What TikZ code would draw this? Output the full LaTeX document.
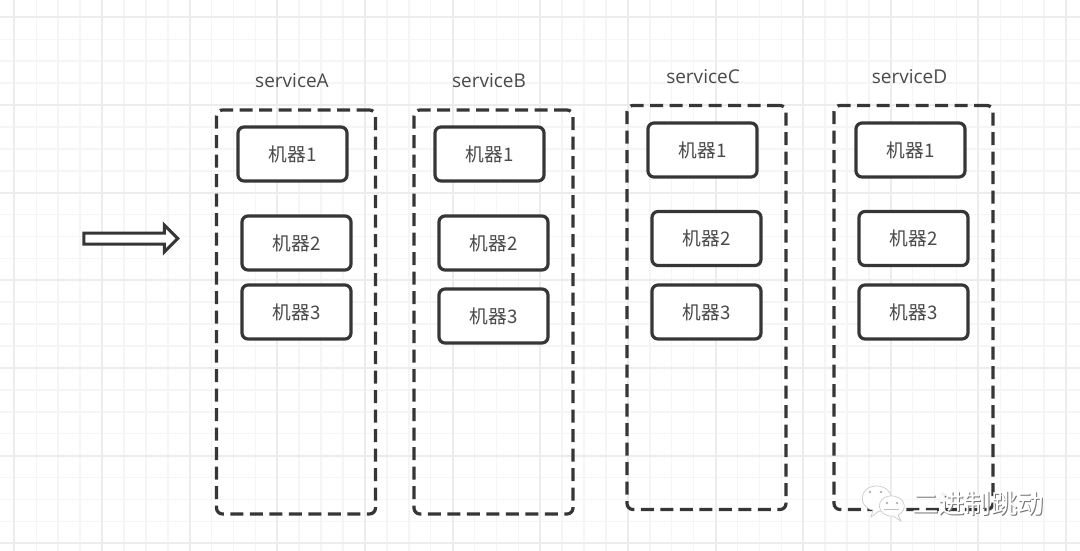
\documentclass[tikz,border=0pt]{standalone}
\usepackage{fontspec}
\setmainfont{Open Sans}
\newfontfamily\cjk{Noto Sans CJK SC}
\usetikzlibrary{shapes.arrows}
\definecolor{inkdark}{HTML}{363636}
\definecolor{inktext}{HTML}{4A4A4A}
\definecolor{gridmajor}{HTML}{ECECEC}
\definecolor{gridminor}{HTML}{F5F5F5}
\tikzset{
  service/.style={draw=inkdark,line width=3.2pt,dash pattern=on 13pt off 6.5pt,rounded corners=6pt,
    minimum width=159pt,minimum height=404pt,inner sep=0pt,outer sep=0pt},
  machine/.style={draw=inkdark,line width=3.2pt,rounded corners=6pt,fill=white,text=inktext,
    minimum width=109pt,minimum height=54pt,inner sep=0pt,outer sep=0pt,font=\cjk\fontsize{18.7}{20}\selectfont},
  title/.style={text=inktext,inner sep=0pt,font=\fontsize{19}{22}\selectfont},
  mark text/.style={inner sep=0pt,font=\cjk\fontsize{26.4}{28}\selectfont}
}
\begin{document}
\begin{tikzpicture}[x=1pt,y=-1pt]
\useasboundingbox (0,0) rectangle (1080,551);
\fill[white] (0,0) rectangle (1080,551);
\foreach \k in {0,...,49} % minor grid, vertical
\draw[gridminor,line width=1.5pt] (14.4+21.91*\k,0) -- (14.4+21.91*\k,551);
\foreach \k in {0,...,25} % minor grid, horizontal
\draw[gridminor,line width=1.5pt] (0,17.4+21.91*\k) -- (1080,17.4+21.91*\k);
\foreach \k in {0,...,12} % major grid, vertical
\draw[gridmajor,line width=2pt] (14.4+87.64*\k,0) -- (14.4+87.64*\k,551);
\foreach \k in {0,...,6} % major grid, horizontal
\draw[gridmajor,line width=2pt] (0,17.4+87.64*\k) -- (1080,17.4+87.64*\k);

% containers
\node[service] (srvA) at (296,312) {};
\node[service] (srvB) at (493.5,312) {};
\node[service] (srvC) at (706.5,307.5) {};
\node[service] (srvD) at (913.5,307.5) {};

\node[title] (nameA) at (292,81) {serviceA};
\node[title] (nameB) at (489,81) {serviceB};
\node[title] (nameC) at (703,76.5) {serviceC};
\node[title] (nameD) at (909.5,76.5) {serviceD};

% machines
\node[machine] (a1) at (292.5,154) {\raisebox{-1pt}{机器1}};
\node[machine] (a2) at (296.5,243) {\raisebox{-1pt}{机器2}};
\node[machine] (a3) at (296.5,312) {\raisebox{-1pt}{机器3}};
\node[machine] (b1) at (489.5,154) {\raisebox{-1pt}{机器1}};
\node[machine] (b2) at (493.5,243) {\raisebox{-1pt}{机器2}};
\node[machine] (b3) at (493.5,316) {\raisebox{-1pt}{机器3}};
\node[machine] (c1) at (702.5,150) {\raisebox{-1pt}{机器1}};
\node[machine] (c2) at (706.5,238.5) {\raisebox{-1pt}{机器2}};
\node[machine] (c3) at (706.5,312) {\raisebox{-1pt}{机器3}};
\node[machine] (d1) at (910.5,150) {\raisebox{-1pt}{机器1}};
\node[machine] (d2) at (913.5,238.5) {\raisebox{-1pt}{机器2}};
\node[machine] (d3) at (913.5,312) {\raisebox{-1pt}{机器3}};

% arrow into the services
\node[single arrow,draw=inkdark,fill=white,line width=3pt,inner xsep=0pt,inner ysep=4pt,outer sep=0pt,
  minimum height=94pt,minimum width=24pt,single arrow head extend=8pt,single arrow tip angle=90] (flow) at (128,238.5) {};

% watermark
\fill[white,draw=black!20,line width=.7pt] (873,510) -- (871,517) -- (879,511) .. controls (896,510) and (896,487) .. (877,486) .. controls (858,486) and (858,508) .. (873,510);
\fill[white,draw=black!20,line width=.7pt] (898,515) -- (901,521) -- (893,516) .. controls (876,517) and (875,497) .. (890,496) .. controls (905,495) and (909,510) .. (898,515);
\fill[black!30] (870,492) circle (1.3pt) (881,492) circle (1.3pt) (887,503) circle (1.3pt) (897,503) circle (1.3pt);
\draw[black!25,line width=1pt] (884,509) -- (899,509);
\node[mark text,text=black!55] (markShade) at (979,504) {二进制跳动};
\node[mark text,text=white] (markFace) at (978,503) {二进制跳动};
\end{tikzpicture}
\end{document}
